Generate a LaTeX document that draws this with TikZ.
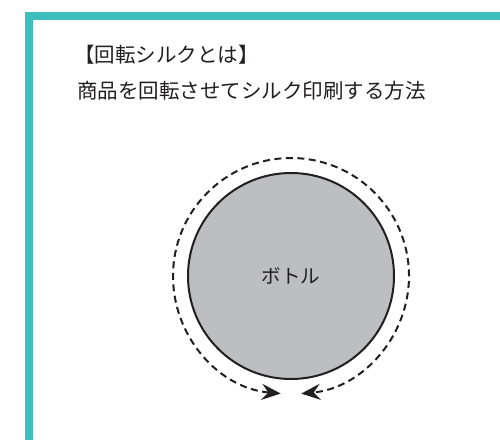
\documentclass[tikz,border=0pt]{standalone}
\usepackage{fontspec}
\newfontfamily\jp{Noto Sans CJK JP}
\usetikzlibrary{arrows.meta}
\definecolor{teal}{RGB}{59,190,188}
\definecolor{ink}{RGB}{35,31,32}
\definecolor{bottle}{RGB}{188,190,192}
\tikzset{
  txt/.style={font=\jp\fontsize{20.5pt}{24pt}\selectfont, text=ink, inner sep=0pt, anchor=west},
  lbltxt/.style={font=\jp\fontsize{19.5pt}{23pt}\selectfont, text=ink, inner sep=0pt},
  bar/.style={fill=teal, draw=none},
  rot/.style={draw=ink, line width=2pt, dash pattern=on 7pt off 4.5pt,
    {Stealth[length=19pt,width=16pt,inset=6.5pt]}-{Stealth[length=19pt,width=16pt,inset=6.5pt]}}
}
\begin{document}
\begin{tikzpicture}[x=1pt,y=1pt]
\useasboundingbox (0,0) rectangle (500,440);
\fill[white] (0,0) rectangle (500,440);
% teal border
\path[bar] (25,0) rectangle (33,428);
\path[bar] (25,420) rectangle (500,428);
% text
\node[txt] (t1) at (74,385) {【回転シルクとは】};
\node[txt] (t2) at (77,349) {商品を回転させてシルク印刷する方法};
% bottle
\coordinate (c) at (291,164);
\node[circle, draw=ink, line width=2pt, fill=bottle, minimum size=206pt, inner sep=0pt] (b) at (c) {};
\node[lbltxt] (lbl) at (c) {ボトル};
% rotation arrow
\draw[rot] ([shift={(265:118)}]c) arc[start angle=265, end angle=-85, radius=118];
\end{tikzpicture}
\end{document}
